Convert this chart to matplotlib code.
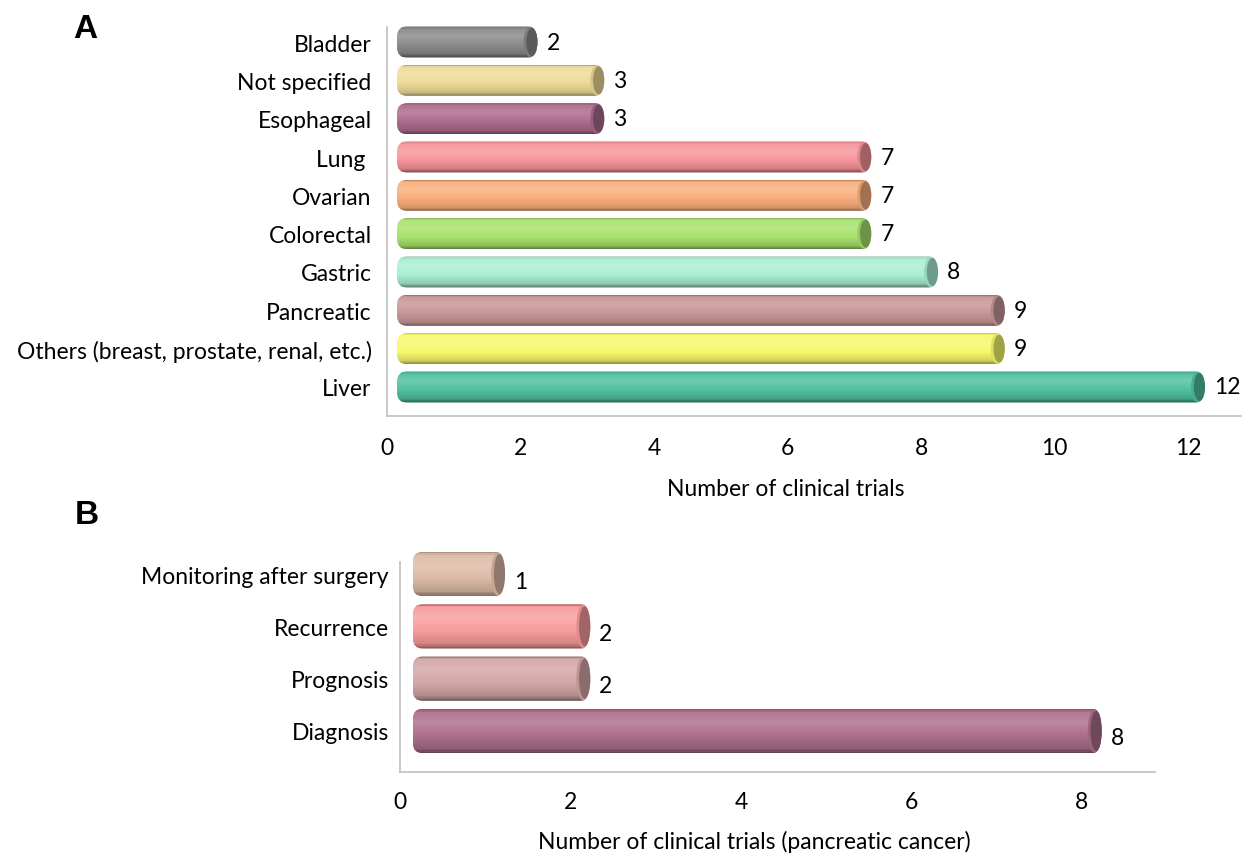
import numpy as np
import matplotlib
matplotlib.use('Agg')
import matplotlib.pyplot as plt
from matplotlib.colors import to_rgb
from matplotlib.patches import Ellipse, FancyBboxPatch

plt.rcParams['font.family'] = ['Lato', 'DejaVu Sans']
FS = 16.5

# panel A data (top to bottom as shown)
cancer_types = ['Bladder', 'Not specified', 'Esophageal', 'Lung ', 'Ovarian',
                'Colorectal', 'Gastric', 'Pancreatic',
                'Others (breast, prostate, renal, etc.)', 'Liver']
cancer_trials = [2, 3, 3, 7, 7, 7, 8, 9, 9, 12]
cancer_colors = ['#8a8a8a', '#eedb98', '#ab6a8c', '#f7959a', '#f9ae7c',
                 '#a8e26c', '#a9eed4', '#c69696', '#f7f76c', '#4fc09e']

# panel B data
purposes = ['Monitoring after surgery', 'Recurrence', 'Prognosis', 'Diagnosis']
purpose_trials = [1, 2, 2, 8]
purpose_colors = ['#dcbaa5', '#f99c9c', '#d2a6a6', '#ad6f8c']


def shade(c, f):
    c = np.array(to_rgb(c))
    if f >= 0:
        return tuple(c + (1 - c) * f)
    return tuple(c * (1 + f))


def cylinders(ax, labels, values, colors, h, x0, cap_w, px_x, px_y, lab_dy=0):
    pos = np.arange(len(labels))[::-1]
    n = 30
    t = (np.arange(n) + 0.5) / n
    prof = np.interp(t, [0, 0.07, 0.3, 0.6, 0.88, 1.0],
                     [-0.3, 0.05, 0.18, 0.0, -0.15, -0.45])
    r = 10.0 / px_x
    asp = px_x / px_y
    for p, v, c in zip(pos, values, colors):
        clip = FancyBboxPatch((x0, p - h / 2), v + cap_w / 2, h,
                              boxstyle='round,pad=0,rounding_size=%f' % r,
                              mutation_aspect=asp, transform=ax.transData,
                              facecolor='none', edgecolor='none')
        for k in range(n):
            yk = p + h / 2 - (k + 0.5) * h / n
            b = ax.barh(yk, v + 0.001, left=x0, height=h / n * 1.05,
                        color=shade(c, prof[k]), linewidth=0)
            for patch in b:
                patch.set_clip_path(clip)
                patch.set_clip_box(None)
                patch.set_clip_on(True)
        # end cap
        ax.add_patch(Ellipse((x0 + v, p), cap_w, h * 0.98,
                             facecolor=shade(c, -0.1), edgecolor='none',
                             clip_on=False))
        ax.add_patch(Ellipse((x0 + v + cap_w * 0.1, p), cap_w * 0.8, h * 0.9,
                             facecolor=shade(c, -0.35), edgecolor='none',
                             clip_on=False))
        ax.text(x0 + v + cap_w / 2 + 9 / px_x, p - lab_dy / px_y, str(v),
                va='center', ha='left', fontsize=FS)
    ax.set_yticks(pos)
    ax.set_yticklabels(labels, fontsize=FS)
    for s in ['top', 'right']:
        ax.spines[s].set_visible(False)
    for s in ['left', 'bottom']:
        ax.spines[s].set_color('#c0c0c0')
        ax.spines[s].set_linewidth(1.2)
    ax.tick_params(axis='both', length=0, labelsize=FS)


fig = plt.figure(figsize=(12.42, 8.54), dpi=100)

axA = fig.add_axes([387 / 1242, 1 - 417 / 854, 854 / 1242, 389 / 854])
pxA_x, pxA_y = 66.75, 38.33
cylinders(axA, cancer_types, cancer_trials, cancer_colors, 0.81, 0.15,
          14 / pxA_x, pxA_x, pxA_y)
axA.set_xlim(0, 854 / pxA_x)
axA.set_ylim(-29 / pxA_y, 9 + 15 / pxA_y)
axA.set_xticks(range(0, 13, 2))
axA.tick_params(axis='x', pad=15)
axA.tick_params(axis='y', pad=11)
axA.set_xlabel('Number of clinical trials', fontsize=FS)
axA.xaxis.set_label_coords((786 - 387) / 854, -(479 - 417) / 389)

axB = fig.add_axes([400 / 1242, 1 - 773 / 854, 755 / 1242, 210 / 854])
pxB_x, pxB_y = 85.25, 52.3
cylinders(axB, purposes, purpose_trials, purpose_colors, 0.85, 0.15,
          14 / pxB_x, pxB_x, pxB_y, lab_dy=7)
axB.set_xlim(0, 755 / pxB_x)
axB.set_ylim(-41 / pxB_y, 3 + 12 / pxB_y)
axB.set_xticks(range(0, 9, 2))
axB.tick_params(axis='x', pad=14)
axB.tick_params(axis='y', pad=8)
axB.set_xlabel('Number of clinical trials (pancreatic cancer)', fontsize=FS)
axB.xaxis.set_label_coords((754 - 400) / 755, -(831 - 773) / 210)

fig.text(85 / 1242, 1 - 30 / 854, 'A', fontsize=24, fontweight='bold',
         ha='center', va='center', family=['Liberation Sans', 'DejaVu Sans'])
fig.text(87 / 1242, 1 - 516 / 854, 'B', fontsize=24, fontweight='bold',
         ha='center', va='center', family=['Liberation Sans', 'DejaVu Sans'])

fig.savefig('out.png', dpi=100)
